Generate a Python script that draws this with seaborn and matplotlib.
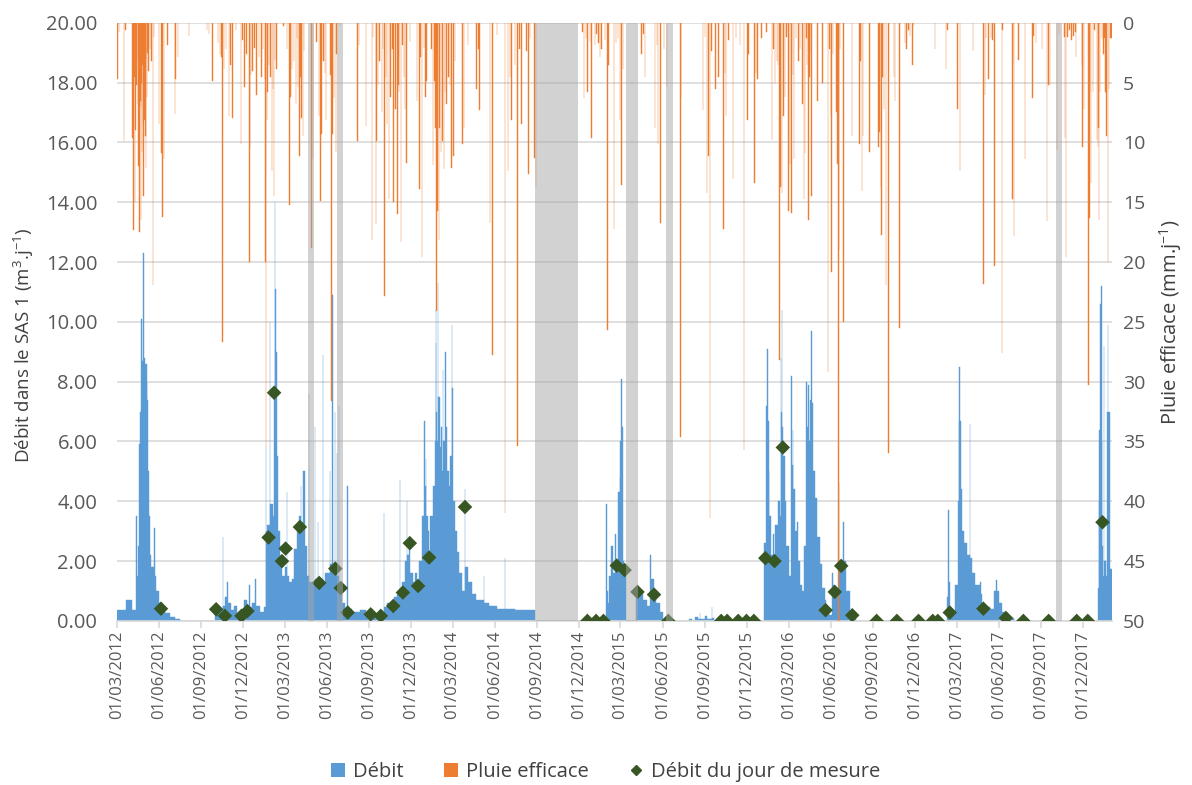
import numpy as np
import pandas as pd
import seaborn as sns
import matplotlib.pyplot as plt
import matplotlib.dates as mdates
from matplotlib.patches import Patch
from matplotlib.lines import Line2D

START = "2012-03-01"
END = "2018-02-02"

# Débit journalier (m3/j) : date de début de palier, valeur
debit_2012 = [
    ("2012-03-01", 0.35), ("2012-03-22", 0.7), ("2012-04-03", 0.35),
    ("2012-04-12", 3.5), ("2012-04-13", 1.5), ("2012-04-17", 2.5),
    ("2012-04-19", 5.9), ("2012-04-21", 7.0), ("2012-04-23", 10.1),
    ("2012-04-24", 8.7), ("2012-04-28", 12.3), ("2012-04-29", 8.8),
    ("2012-05-02", 8.6), ("2012-05-05", 8.0), ("2012-05-06", 7.4),
    ("2012-05-08", 5.0), ("2012-05-10", 3.5), ("2012-05-12", 2.2),
    ("2012-05-15", 1.8), ("2012-05-21", 3.1), ("2012-05-22", 1.5),
    ("2012-05-26", 1.0), ("2012-06-01", 0.6), ("2012-06-07", 0.4),
    ("2012-06-14", 0.25), ("2012-06-25", 0.12), ("2012-07-06", 0.05),
    ("2012-07-17", 0.0),
]
debit_2013 = [
    ("2012-10-01", 0.35), ("2012-10-17", 2.8), ("2012-10-18", 0.5),
    ("2012-10-22", 0.8), ("2012-10-27", 1.3), ("2012-10-28", 0.6),
    ("2012-11-04", 0.35), ("2012-11-10", 0.5), ("2012-11-17", 0.25),
    ("2012-11-28", 0.4), ("2012-12-03", 0.7), ("2012-12-08", 0.5),
    ("2012-12-14", 1.2), ("2012-12-15", 0.45), ("2012-12-21", 0.6),
    ("2012-12-27", 1.4), ("2012-12-28", 0.5), ("2013-01-07", 0.3),
    ("2013-01-14", 0.45), ("2013-01-19", 5.8), ("2013-01-20", 3.0),
    ("2013-01-22", 3.2), ("2013-01-28", 10.0), ("2013-01-29", 3.9),
    ("2013-02-04", 3.5), ("2013-02-05", 7.5), ("2013-02-07", 14.0),
    ("2013-02-08", 11.1), ("2013-02-10", 9.0), ("2013-02-12", 5.5),
    ("2013-02-15", 3.0), ("2013-02-18", 1.9), ("2013-02-23", 1.5),
    ("2013-03-01", 1.8), ("2013-03-06", 4.3), ("2013-03-07", 1.5),
    ("2013-03-10", 1.3), ("2013-03-17", 1.4), ("2013-03-22", 2.4),
    ("2013-03-27", 3.2), ("2013-04-01", 3.5), ("2013-04-05", 4.5),
    ("2013-04-06", 3.3), ("2013-04-10", 5.0), ("2013-04-11", 3.0),
    ("2013-04-13", 5.0), ("2013-04-14", 2.5), ("2013-04-18", 1.5),
    ("2013-04-22", 7.6), ("2013-04-23", 1.3), ("2013-05-03", 1.2),
    ("2013-05-05", 6.5), ("2013-05-06", 1.4), ("2013-05-12", 3.3),
    ("2013-05-13", 1.2), ("2013-05-18", 1.4), ("2013-05-23", 8.9),
    ("2013-05-24", 1.3), ("2013-05-28", 1.6), ("2013-06-07", 5.0),
    ("2013-06-08", 1.9), ("2013-06-12", 10.9), ("2013-06-13", 1.8),
    ("2013-06-18", 7.0), ("2013-06-19", 1.7), ("2013-06-22", 5.6),
    ("2013-06-23", 1.5), ("2013-06-26", 7.2), ("2013-06-27", 1.0),
    ("2013-07-04", 0.6), ("2013-07-10", 0.4), ("2013-07-15", 4.5),
    ("2013-07-16", 0.4), ("2013-07-25", 0.3), ("2013-08-12", 0.35),
    ("2013-08-25", 0.25), ("2013-09-10", 0.2),
]
debit_2014 = [
    ("2013-10-02", 3.6), ("2013-10-03", 0.45), ("2013-10-10", 0.6),
    ("2013-10-18", 0.45), ("2013-10-24", 0.8), ("2013-11-01", 0.9),
    ("2013-11-06", 4.7), ("2013-11-07", 1.1), ("2013-11-12", 1.3),
    ("2013-11-18", 2.0), ("2013-11-21", 4.0), ("2013-11-22", 2.2),
    ("2013-11-26", 2.8), ("2013-11-29", 1.6), ("2013-12-05", 1.3),
    ("2013-12-10", 1.6), ("2013-12-14", 1.2), ("2013-12-19", 2.0),
    ("2013-12-24", 3.5), ("2013-12-29", 6.7), ("2013-12-30", 4.5),
    ("2014-01-02", 5.4), ("2014-01-03", 3.5), ("2014-01-06", 3.0),
    ("2014-01-09", 2.3), ("2014-01-12", 3.5), ("2014-01-17", 4.5),
    ("2014-01-21", 6.0), ("2014-01-23", 10.4), ("2014-01-24", 9.3),
    ("2014-01-25", 7.0), ("2014-01-27", 6.0), ("2014-01-28", 11.3),
    ("2014-01-29", 7.5), ("2014-02-01", 5.8), ("2014-02-04", 6.5),
    ("2014-02-07", 5.0), ("2014-02-08", 8.4), ("2014-02-09", 6.0),
    ("2014-02-13", 9.0), ("2014-02-14", 6.5), ("2014-02-17", 5.0),
    ("2014-02-21", 4.5), ("2014-02-24", 5.5), ("2014-02-27", 9.9),
    ("2014-02-28", 7.8), ("2014-03-02", 4.0), ("2014-03-06", 3.0),
    ("2014-03-10", 2.3), ("2014-03-15", 1.6), ("2014-03-22", 1.0),
    ("2014-03-27", 4.4), ("2014-03-29", 1.8), ("2014-04-04", 1.3),
    ("2014-04-12", 0.9), ("2014-04-22", 0.7), ("2014-05-08", 1.5),
    ("2014-05-09", 0.6), ("2014-05-20", 0.5), ("2014-06-05", 0.4),
    ("2014-06-23", 2.1), ("2014-06-24", 0.4), ("2014-07-15", 0.35),
    ("2014-08-28", 0.0),
]
debit_2015 = [
    ("2015-01-29", 3.9), ("2015-01-30", 1.0), ("2015-02-01", 0.6),
    ("2015-02-04", 1.5), ("2015-02-08", 2.5), ("2015-02-12", 1.6),
    ("2015-02-18", 2.9), ("2015-02-19", 2.0), ("2015-02-24", 4.3),
    ("2015-02-27", 4.8), ("2015-03-01", 6.0), ("2015-03-03", 8.1),
    ("2015-03-04", 6.5), ("2015-03-06", 2.0), ("2015-03-09", 1.5),
    ("2015-03-12", 0.0), ("2015-04-03", 1.0), ("2015-04-10", 0.9),
    ("2015-04-18", 0.7), ("2015-04-28", 0.5), ("2015-05-05", 2.2),
    ("2015-05-06", 1.4), ("2015-05-12", 1.0), ("2015-05-18", 0.6),
    ("2015-05-25", 0.3), ("2015-06-01", 0.0), ("2015-07-28", 0.08),
    ("2015-08-03", 0.0), ("2015-08-10", 0.12), ("2015-08-16", 0.05),
    ("2015-08-20", 0.25), ("2015-08-21", 0.08), ("2015-09-01", 0.15),
    ("2015-09-05", 0.05), ("2015-09-15", 0.47), ("2015-09-16", 0.1),
    ("2015-09-20", 0.0),
]
debit_2016 = [
    ("2016-01-07", 2.6), ("2016-01-12", 7.2), ("2016-01-13", 2.8),
    ("2016-01-14", 9.1), ("2016-01-15", 6.7), ("2016-01-17", 5.0),
    ("2016-01-19", 3.5), ("2016-01-22", 2.2), ("2016-01-27", 2.9),
    ("2016-01-28", 2.0), ("2016-02-01", 3.2), ("2016-02-06", 4.0),
    ("2016-02-10", 3.5), ("2016-02-13", 8.8), ("2016-02-14", 7.0),
    ("2016-02-15", 10.4), ("2016-02-16", 6.5), ("2016-02-18", 5.5),
    ("2016-02-21", 4.0), ("2016-02-25", 2.5), ("2016-03-01", 1.5),
    ("2016-03-06", 8.2), ("2016-03-08", 5.2), ("2016-03-10", 6.4),
    ("2016-03-11", 4.4), ("2016-03-15", 3.0), ("2016-03-19", 3.3),
    ("2016-03-20", 2.0), ("2016-03-25", 1.2), ("2016-03-30", 1.0),
    ("2016-04-04", 2.5), ("2016-04-08", 8.0), ("2016-04-10", 6.5),
    ("2016-04-12", 7.9), ("2016-04-14", 6.0), ("2016-04-16", 7.4),
    ("2016-04-19", 9.7), ("2016-04-20", 7.3), ("2016-04-22", 5.0),
    ("2016-04-26", 4.1), ("2016-05-01", 2.8), ("2016-05-07", 1.9),
    ("2016-05-12", 1.1), ("2016-05-18", 0.7), ("2016-05-21", 0.3),
    ("2016-05-28", 0.2), ("2016-06-02", 1.6), ("2016-06-06", 1.2),
    ("2016-06-10", 0.9), ("2016-06-18", 4.6), ("2016-06-19", 2.0),
    ("2016-06-23", 1.8), ("2016-06-26", 3.3), ("2016-06-30", 2.0),
    ("2016-07-04", 1.0), ("2016-07-11", 0.3), ("2016-07-16", 0.15),
    ("2016-07-25", 0.0),
]
debit_2017 = [
    ("2016-12-03", 0.05), ("2016-12-14", 0.0),
    ("2017-02-07", 0.8), ("2017-02-11", 3.7), ("2017-02-12", 1.3),
    ("2017-02-14", 0.3), ("2017-02-26", 1.2), ("2017-03-03", 4.0),
    ("2017-03-05", 6.7), ("2017-03-07", 8.5), ("2017-03-08", 6.7),
    ("2017-03-10", 4.4), ("2017-03-12", 3.0), ("2017-03-17", 2.6),
    ("2017-03-24", 2.2), ("2017-03-29", 6.6), ("2017-03-30", 2.1),
    ("2017-04-03", 1.6), ("2017-04-10", 1.2), ("2017-04-21", 1.3),
    ("2017-04-22", 0.9), ("2017-04-26", 0.45), ("2017-05-12", 0.4),
    ("2017-05-22", 1.0), ("2017-05-26", 1.36), ("2017-05-28", 1.0),
    ("2017-06-02", 0.6), ("2017-06-08", 0.3), ("2017-06-14", 0.1),
    ("2017-07-04", 0.0),
]
debit_2018 = [
    ("2018-01-02", 1.1), ("2018-01-04", 4.0), ("2018-01-05", 6.4),
    ("2018-01-07", 10.6), ("2018-01-08", 8.0), ("2018-01-09", 11.2),
    ("2018-01-10", 6.0), ("2018-01-11", 2.5), ("2018-01-13", 1.5),
    ("2018-01-15", 9.2), ("2018-01-16", 2.0), ("2018-01-19", 1.5),
    ("2018-01-22", 7.0), ("2018-01-24", 9.9), ("2018-01-25", 7.0),
    ("2018-01-28", 1.75),
]

# Pluie efficace (mm/j) : jour depuis le 01/03/2012, valeur
pluie_2012 = [
    (1, 4.7), (5, 0.8), (16, 9.9), (19, 0.6), (34, 9.6), (36, 17.3),
    (38, 4.5), (39, 15.0), (41, 9.0), (43, 5.2), (44, 3.0), (46, 6.8),
    (47, 12.0), (49, 17.5), (50, 5.5), (51, 6.5), (52, 7.0), (53, 16.5),
    (54, 5.0), (55, 10.8), (56, 3.5), (57, 8.5), (58, 14.5), (59, 6.0),
    (60, 8.1), (61, 4.0), (62, 9.5), (63, 12.1), (64, 3.0), (66, 6.2),
    (67, 2.5), (69, 4.0), (72, 2.2), (75, 3.2), (79, 21.9), (81, 1.2),
    (92, 8.5), (97, 10.9), (99, 16.2), (102, 11.4), (110, 1.9),
    (126, 7.6), (128, 4.7), (133, 2.9), (157, 1.1), (196, 0.6),
    (201, 0.9), (208, 4.9), (220, 1.7), (224, 2.6), (228, 2.9),
    (230, 26.7), (233, 3.9), (237, 2.2), (244, 7.8), (247, 3.5),
    (252, 8.0), (259, 0.6), (270, 10.1), (273, 1.4), (278, 5.4),
    (282, 2.6), (288, 20.0), (289, 10.4), (292, 4.4), (295, 4.0),
    (299, 2.1), (304, 6.0),
]
pluie_2013 = [
    (309, 2.9), (315, 4.5), (318, 2.2), (322, 4.7), (323, 20.0),
    (324, 35.5), (326, 8.1), (328, 5.8), (331, 3.5), (334, 4.5),
    (337, 12.4), (340, 5.5), (342, 14.5), (344, 3.1), (347, 3.9),
    (362, 0.3), (370, 2.2), (375, 15.2), (378, 6.2), (381, 3.9),
    (385, 3.2), (389, 6.8), (392, 1.3), (394, 5.4), (397, 11.1),
    (399, 4.5), (402, 8.0), (405, 9.5), (407, 2.4), (423, 18.8),
    (427, 11.4), (434, 1.6), (440, 7.8), (443, 14.9), (445, 9.3),
    (449, 3.2), (453, 4.2), (455, 8.1), (465, 4.4), (467, 31.6),
    (469, 9.3), (472, 6.3), (476, 10.8), (478, 2.6), (485, 0.3),
    (523, 9.9), (526, 1.9), (542, 8.6), (555, 18.2), (557, 1.2),
    (563, 16.8), (565, 9.9), (568, 5.2), (571, 3.2), (576, 7.5),
    (579, 2.2), (582, 22.8), (585, 4.5), (588, 8.5), (592, 14.7),
    (595, 6.2), (599, 2.2), (602, 15.0), (606, 7.2), (610, 16.0),
    (612, 5.2), (614, 5.8), (618, 18.3), (621, 1.9), (624, 4.5),
    (626, 7.2), (630, 11.7), (637, 1.6), (653, 6.5), (658, 13.9),
    (660, 2.9), (664, 19.6), (668, 2.1),
]
pluie_2014 = [
    (671, 6.2), (673, 4.9), (684, 2.2), (688, 11.9), (691, 4.9),
    (693, 8.8), (695, 24.1), (697, 15.7), (700, 18.2), (702, 8.8),
    (705, 10.8), (708, 9.9), (711, 12.2), (713, 5.8), (717, 6.8),
    (721, 4.5), (724, 5.2), (728, 12.1), (732, 11.1), (735, 3.2),
    (752, 10.1), (755, 8.8), (764, 1.9), (782, 5.5), (786, 2.2),
    (789, 7.3), (811, 16.7), (817, 27.8), (826, 1.0), (844, 41.0),
    (851, 12.4), (855, 4.5), (858, 8.1), (866, 3.5), (871, 35.4),
    (876, 2.2), (880, 8.5), (891, 2.4), (895, 12.6), (898, 1.3),
    (908, 11.3), (911, 13.7), (1012, 0.8), (1016, 6.3), (1020, 1.3),
    (1023, 5.8), (1029, 1.6), (1032, 9.6),
]
pluie_2015 = [
    (1040, 1.9), (1043, 0.9), (1047, 1.7), (1050, 2.9), (1054, 2.2),
    (1061, 1.4), (1067, 25.7), (1069, 3.5), (1081, 17.2), (1085, 1.7),
    (1090, 1.3), (1094, 8.1), (1097, 13.6), (1100, 3.9), (1141, 2.6),
    (1145, 0.9), (1148, 4.5), (1170, 8.8), (1175, 1.9), (1177, 10.1),
    (1182, 16.7), (1190, 2.2), (1196, 5.4), (1226, 34.6), (1227, 6.2),
    (1275, 7.3), (1279, 1.2), (1283, 14.2), (1286, 11.1), (1290, 41.4),
    (1293, 2.4), (1302, 5.5), (1308, 4.5), (1319, 17.2), (1322, 4.2),
    (1325, 7.8), (1330, 1.4), (1340, 13.1), (1346, 1.3), (1355, 1.9),
    (1364, 35.7), (1371, 8.1), (1373, 2.6), (1386, 13.4), (1390, 4.2),
    (1393, 4.7),
]
pluie_2016 = [
    (1402, 1.3), (1413, 0.8), (1425, 9.8), (1428, 2.2), (1431, 5.0),
    (1435, 3.2), (1438, 3.5), (1441, 28.2), (1443, 13.7), (1446, 14.2),
    (1449, 7.8), (1453, 6.2), (1456, 1.2), (1460, 15.7), (1464, 11.8),
    (1467, 15.9), (1470, 4.4), (1472, 11.4), (1477, 1.3), (1482, 3.2),
    (1485, 2.2), (1491, 6.8), (1494, 14.7), (1496, 10.9), (1499, 1.3),
    (1501, 3.5), (1504, 16.5), (1506, 4.5), (1509, 2.6), (1510, 14.5),
    (1523, 6.5), (1534, 5.0), (1546, 29.2), (1549, 2.2), (1553, 7.8),
    (1554, 20.8), (1557, 2.6), (1565, 7.5), (1567, 11.8), (1569, 50.0),
    (1570, 19.0), (1572, 2.2), (1580, 25.0), (1598, 9.5), (1615, 10.1),
    (1617, 3.2), (1620, 14.1), (1622, 9.5), (1636, 10.8), (1656, 10.4),
    (1658, 9.1), (1661, 13.7), (1663, 17.7), (1665, 4.5), (1668, 7.2),
    (1672, 21.9), (1678, 36.0), (1690, 4.5), (1692, 6.5), (1702, 25.5),
    (1714, 1.7), (1717, 2.2), (1721, 0.6), (1725, 1.1), (1730, 3.5),
    (1733, 0.3),
]
pluie_2017 = [
    (1779, 2.2), (1803, 3.9), (1806, 0.6), (1828, 7.2), (1833, 12.4),
    (1861, 2.4), (1884, 21.8), (1888, 6.0), (1890, 1.3), (1895, 4.7),
    (1901, 1.3), (1904, 1.4), (1908, 20.3), (1924, 27.6), (1926, 0.6),
    (1947, 14.7), (1949, 3.5), (1951, 17.8), (1960, 3.1), (1975, 11.4),
    (1991, 6.3), (1993, 1.1), (1998, 1.7), (2011, 2.2), (2022, 16.6),
    (2026, 5.2), (2029, 5.2), (2044, 10.6), (2048, 0.9), (2060, 1.2),
    (2062, 9.6), (2064, 19.6), (2067, 1.2), (2071, 0.6), (2076, 1.4),
    (2080, 1.1), (2084, 0.8), (2086, 2.9), (2098, 3.5), (2100, 10.4),
    (2103, 7.2), (2113, 30.3), (2115, 16.3), (2116, 5.7), (2118, 13.4),
    (2122, 5.8), (2126, 0.6), (2131, 9.8), (2133, 10.4), (2134, 8.8),
    (2136, 16.5), (2138, 5.8), (2142, 1.3), (2145, 2.6), (2147, 1.3),
    (2150, 5.8), (2152, 9.5), (2155, 20.0), (2157, 5.5), (2160, 1.3),
    (2163, 1.3),
]

# Débit du jour de mesure
mesure_date = [
    "2012-06-05", "2012-10-03", "2012-10-22", "2012-11-27", "2012-12-10",
    "2013-01-25", "2013-02-06", "2013-02-23", "2013-03-03", "2013-04-03",
    "2013-05-15", "2013-06-19", "2013-07-01", "2013-07-16", "2013-09-04",
    "2013-09-26", "2013-10-23", "2013-11-13", "2013-11-28", "2013-12-16",
    "2014-01-09", "2014-03-28", "2014-12-19", "2015-01-07", "2015-01-23",
    "2015-02-21", "2015-03-10", "2015-04-07", "2015-05-13", "2015-06-13",
    "2015-10-06", "2015-10-19", "2015-11-12", "2015-11-30", "2015-12-16",
    "2016-01-10", "2016-01-30", "2016-02-17", "2016-05-20", "2016-06-09",
    "2016-06-23", "2016-07-17", "2016-09-08", "2016-10-22", "2016-12-08",
    "2017-01-08", "2017-01-19", "2017-02-14", "2017-04-28", "2017-06-16",
    "2017-07-24", "2017-09-17", "2017-11-17", "2017-12-11", "2018-01-12",
]
mesure_val = [
    0.41, 0.39, 0.17, 0.17, 0.33,
    2.79, 7.63, 2.0, 2.42, 3.14,
    1.27, 1.75, 1.1, 0.28, 0.22,
    0.17, 0.5, 0.95, 2.6, 1.17,
    2.12, 3.81, 0.0, 0.0, 0.0,
    1.85, 1.7, 0.97, 0.88, 0.0,
    0.0, 0.0, 0.0, 0.0, 0.0,
    2.1, 2.0, 5.8, 0.36, 0.97,
    1.84, 0.19, 0.0, 0.0, 0.0,
    0.0, 0.0, 0.28, 0.41, 0.1,
    0.0, 0.0, 0.0, 0.0, 3.3,
]

# Périodes sans données
lacune_debut = ["2013-04-20", "2013-06-22", "2014-08-28", "2015-03-12", "2015-06-08", "2017-10-03"]
lacune_fin = ["2013-05-03", "2013-07-05", "2014-11-29", "2015-04-08", "2015-06-24", "2017-10-16"]

BLEU = "#5B9BD5"
ORANGE = "#ED7D31"
VERT = "#375623"
GRIS_TXT = "#595959"

deb = pd.DataFrame(debit_2012 + debit_2013 + debit_2014 + debit_2015
                   + debit_2016 + debit_2017 + debit_2018, columns=["date", "debit"])
deb["x"] = mdates.date2num(pd.to_datetime(deb["date"]))
deb["w"] = np.diff(np.append(deb["x"].values, mdates.date2num(pd.Timestamp(END))))

pl = pd.DataFrame(pluie_2012 + pluie_2013 + pluie_2014 + pluie_2015
                  + pluie_2016 + pluie_2017, columns=["jour", "mm"])
pl["x"] = mdates.date2num(pd.Timestamp(START)) + pl["jour"]

mes = pd.DataFrame({"x": mdates.date2num(pd.to_datetime(mesure_date)), "debit": mesure_val})

sns.set_theme(style="white")
plt.rcParams["font.family"] = ["Open Sans", "DejaVu Sans"]
plt.rcParams["mathtext.default"] = "regular"

fig = plt.figure(figsize=(11.92, 7.85), dpi=100)
ax = fig.add_axes([0.098, 0.209, 0.835, 0.762])
ax2 = ax.twinx()
ax3 = ax.twinx()

# débit (barres journalières)
ax.bar(deb["x"], deb["debit"], width=deb["w"], align="edge", color=BLEU,
       edgecolor=BLEU, linewidth=0.3)
ax.set_ylim(0, 20)
ax.set_yticks(np.arange(0, 21, 2))
ax.set_yticklabels([f"{v:.2f}" for v in np.arange(0, 21, 2)])
ax.yaxis.grid(True, color="#D9D9D9", linewidth=1.2)
ax.set_axisbelow(True)

# pluie efficace (axe secondaire inversé)
ax2.bar(pl["x"], pl["mm"], width=1.0, color=ORANGE, edgecolor=ORANGE, linewidth=0.3)
ax2.set_ylim(50, 0)
ax2.set_yticks(np.arange(0, 51, 5))

# mesures ponctuelles et lacunes
sns.scatterplot(data=mes, x="x", y="debit", marker="D", s=55, color=VERT,
                edgecolor="none", ax=ax3, zorder=4)
for a, b in zip(lacune_debut, lacune_fin):
    ax3.axvspan(mdates.date2num(pd.Timestamp(a)), mdates.date2num(pd.Timestamp(b)),
                color="#A6A6A6", alpha=0.5, linewidth=0, zorder=5)
ax3.set_ylim(0, 20)
ax3.axis("off")

ax.set_xlim(mdates.date2num(pd.Timestamp(START)), mdates.date2num(pd.Timestamp(END)))
ticks = pd.date_range("2012-03-01", "2017-12-01", freq="3MS")
ax.set_xticks(mdates.date2num(ticks))
ax.set_xticklabels([t.strftime("%d/%m/%Y") for t in ticks], rotation=90)

for a in (ax, ax2):
    for s in a.spines.values():
        s.set_visible(False)
ax.spines["bottom"].set_visible(True)
ax.spines["bottom"].set_color("#D9D9D9")
ax.spines["bottom"].set_linewidth(1.2)

ax.tick_params(axis="x", bottom=True, length=5, width=1.2, color="#D9D9D9",
               labelsize=12, labelcolor=GRIS_TXT, pad=2)
ax.tick_params(axis="y", left=False, length=0, labelsize=14.5, labelcolor=GRIS_TXT, pad=14)
ax2.tick_params(axis="y", right=False, length=0, labelsize=14, labelcolor=GRIS_TXT, pad=8)

ax.set_xlabel("")
ax.set_ylabel("Débit dans le SAS 1 (m$^{3}$.j$^{-1}$)", fontsize=13.5, color="#404040")
ax.yaxis.set_label_coords(-0.081, 0.46)
ax2.set_ylabel("Pluie efficace (mm.j$^{-1}$)", fontsize=14.5, color="#404040", labelpad=8)

handles = [
    Patch(facecolor=BLEU, edgecolor="none"),
    Patch(facecolor=ORANGE, edgecolor="none"),
    Line2D([], [], marker="D", linestyle="", color=VERT, markersize=5),
]
fig.legend(handles, ["Débit", "Pluie efficace", "Débit du jour de mesure"],
           loc="center", bbox_to_anchor=(0.508, 0.016), ncol=3, frameon=False,
           fontsize=14.5, handlelength=0.7, handleheight=0.7, handletextpad=0.4,
           columnspacing=2.0, labelcolor="#404040")

plt.savefig("out.png", dpi=100)
